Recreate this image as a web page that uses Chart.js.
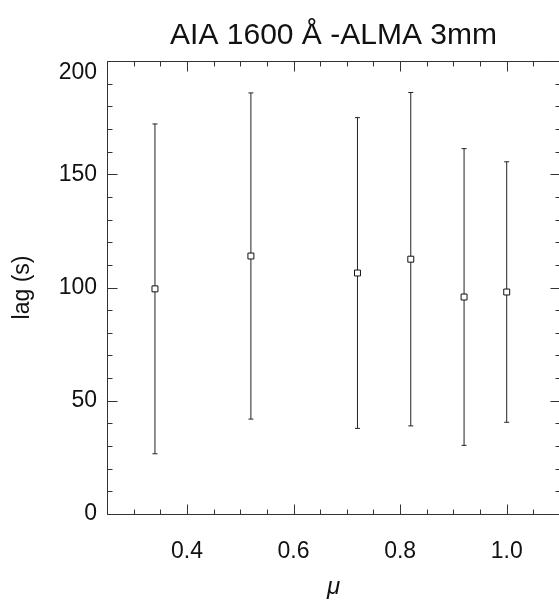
<!DOCTYPE html>
<html>
<head>
<meta charset="utf-8">
<script src="https://cdn.jsdelivr.net/npm/chart.js@4"></script>
<style>
  html, body { margin: 0; padding: 0; background: #fff; overflow: hidden; width: 559px; height: 603px; }
  canvas { display: block; }
</style>
</head>
<body>
<canvas id="c" width="561" height="603"></canvas>
<script>
// ---- data ----
const mu      = [0.34, 0.52, 0.72, 0.82, 0.92, 1.00];
const lag     = [99.4, 113.9, 106.4, 112.5, 95.8, 98.0];
const lagErr  = [72.8, 72.0, 68.6, 73.6, 65.5, 57.5];
const xTickLabels = ['0.4', '0.6', '0.8', '1.0'];
const yTickLabels = ['0', '50', '100', '150', '200'];
const titleText = 'AIA 1600 Å -ALMA 3mm';
const xTitle = 'μ';
const yTitle = 'lag (s)';

// ---- derived datasets ----
const markerPts = mu.map((m, i) => ({ x: m, y: lag[i] }));
const errPts = [];
mu.forEach((m, i) => {
  errPts.push({ x: m, y: lag[i] - lagErr[i] });
  errPts.push({ x: m, y: lag[i] + lagErr[i] });
  errPts.push({ x: m, y: null });
});

function matchLabel(list, v) {
  for (const l of list) if (Math.abs(parseFloat(l) - v) < 1e-6) return l;
  return '';
}

const FONT = "'Liberation Sans', Arial, Helvetica, sans-serif";
const INK = '#111';

const idlTicks = {
  id: 'idlTicks',
  afterDatasetsDraw(chart) {
    const { ctx, chartArea: a, scales: { x, y } } = chart;
    const isMajor = t => Array.isArray(t.label) ? t.label.join('') !== '' : (t.label !== '' && t.label != null);
    ctx.save();
    ctx.strokeStyle = '#333';
    ctx.lineWidth = 1;
    ctx.beginPath();
    const L = Math.round(a.left) + 0.5, R = Math.round(a.right) + 0.5;
    const T = Math.round(a.top) + 0.5, B = Math.round(a.bottom) + 0.5;
    ctx.moveTo(L, T); ctx.lineTo(R, T); ctx.lineTo(R, B); ctx.lineTo(L, B); ctx.closePath();
    x.ticks.forEach((t, i) => {
      const px = Math.round(x.getPixelForTick(i)) + 0.5;
      const len = isMajor(t) ? 10 : 5;
      ctx.moveTo(px, B); ctx.lineTo(px, B - len);
      ctx.moveTo(px, T); ctx.lineTo(px, T + len);
    });
    y.ticks.forEach((t, i) => {
      const py = Math.round(y.getPixelForTick(i)) + 0.5;
      const len = isMajor(t) ? 10 : 5;
      ctx.moveTo(L, py); ctx.lineTo(L + len, py);
      ctx.moveTo(R, py); ctx.lineTo(R - len, py);
    });
    ctx.stroke();
    ctx.restore();
  }
};

new Chart(document.getElementById('c'), {
  type: 'scatter',
  data: {
    datasets: [
      {
        label: 'lag',
        data: markerPts,
        pointStyle: 'rect',
        pointRadius: 4.2,
        pointHoverRadius: 4.2,
        pointBorderWidth: 1,
        borderColor: INK,
        backgroundColor: '#fff',
        showLine: false
      },
      {
        label: 'error',
        data: errPts,
        showLine: true,
        spanGaps: false,
        borderColor: '#222',
        borderWidth: 1,
        pointStyle: 'line',
        pointRadius: 2.5,
        pointHoverRadius: 2.5,
        pointBorderWidth: 1,
        pointBorderColor: '#222',
        backgroundColor: '#222'
      }
    ]
  },
  options: {
    responsive: false,
    animation: false,
    events: [],
    layout: { autoPadding: false, padding: { left: 0, right: 1, top: 0, bottom: 0 } },
    plugins: {
      legend: { display: false },
      tooltip: { enabled: false },
      title: {
        display: true,
        fullSize: false,
        text: titleText,
        color: INK,
        font: { family: FONT, size: 30, weight: 'normal', lineHeight: 1.2 },
        padding: { top: 18, bottom: 7 }
      }
    },
    scales: {
      x: {
        type: 'linear',
        position: 'bottom',
        min: 0.25,
        max: 1.1,
        grid: { display: false, drawTicks: false },
        border: { display: false },
        ticks: {
          stepSize: 0.05,
          autoSkip: false,
          maxRotation: 0,
          minRotation: 0,
          padding: 0,
          color: INK,
          font: { family: FONT, size: 23, lineHeight: '76px' },
          callback: v => matchLabel(xTickLabels, v)
        },
        title: {
          display: true,
          text: xTitle,
          color: INK,
          font: { family: FONT, size: 24, style: 'italic', lineHeight: 1.2 },
          padding: { top: 0, bottom: 1 }
        },
        afterFit: s => { s.height = 89; }
      },
      y: {
        type: 'linear',
        min: 0,
        max: 200,
        grid: { display: false, drawTicks: false },
        border: { display: false },
        ticks: {
          stepSize: 10,
          autoSkip: false,
          padding: 10,
          color: INK,
          font: { family: FONT, size: 23, lineHeight: 1 },
          callback: v => {
            const l = matchLabel(yTickLabels, v);
            return (l !== '' && v === 200) ? ['', l] : l;
          }
        },
        title: {
          display: true,
          text: yTitle,
          color: INK,
          font: { family: FONT, size: 23, lineHeight: 1.2 },
          padding: { top: 9, bottom: 0 }
        },
        afterFit: s => { s.width = 107; }
      }
    }
  },
  plugins: [idlTicks]
});
</script>
</body>
</html>
